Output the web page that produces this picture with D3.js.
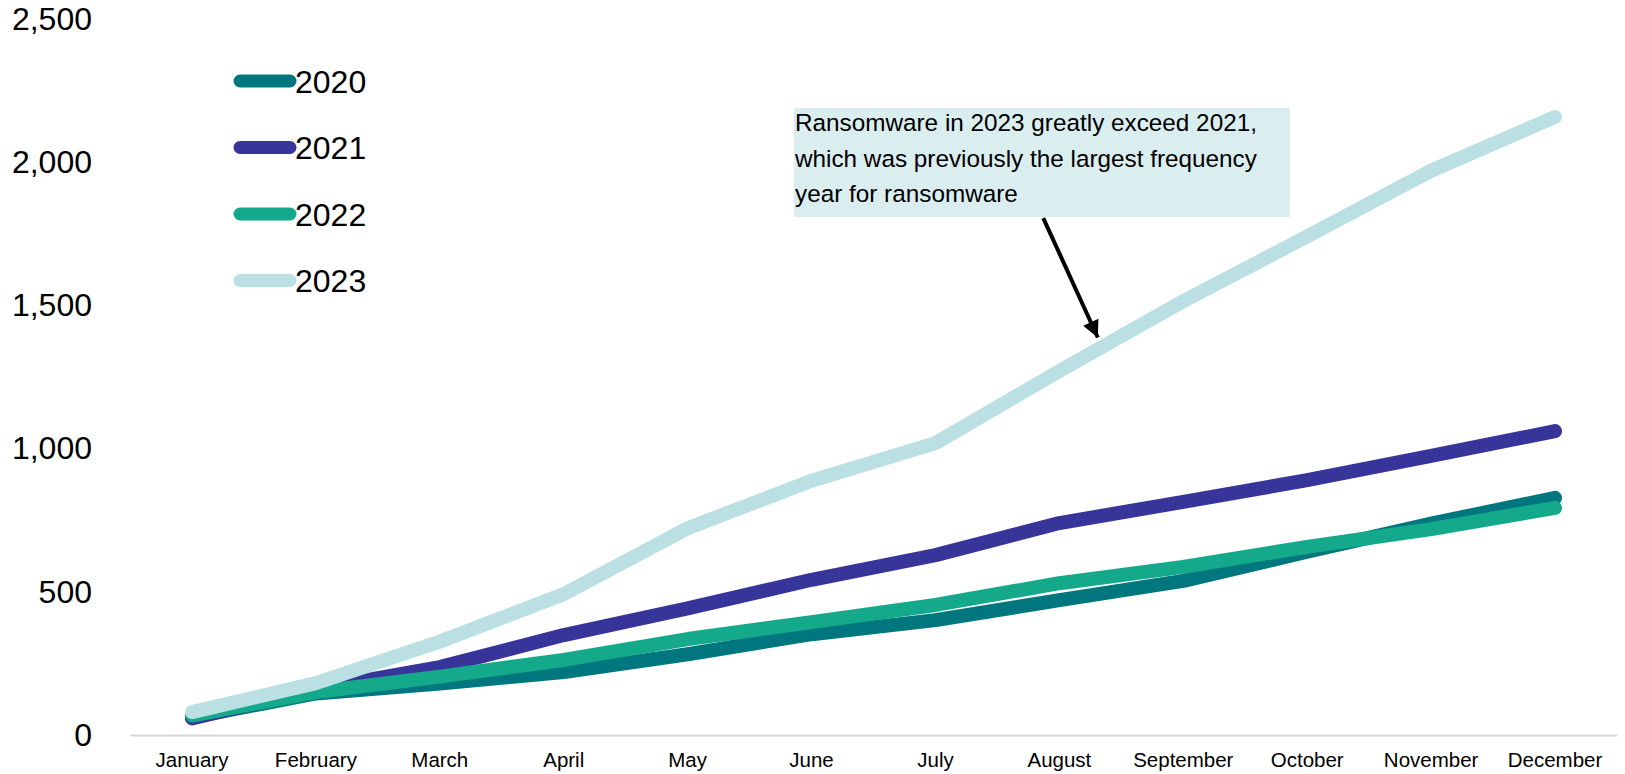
<!DOCTYPE html>
<html>
<head>
<meta charset="utf-8">
<script src="https://cdn.jsdelivr.net/npm/d3@7"></script>
<style>
  html, body { margin: 0; padding: 0; background: #ffffff; }
  svg { display: block; font-family: "Liberation Sans", Arial, sans-serif; }
</style>
</head>
<body>
<svg id="chart" width="1625" height="774"></svg>
<script>
const months = ["January","February","March","April","May","June","July","August","September","October","November","December"];
const yTicks = [0, 500, 1000, 1500, 2000, 2500];
const seriesNames = ["2020","2021","2022","2023"];
const values2020 = [62, 145, 180, 220, 282, 352, 401, 471, 538, 640, 738, 828];
const values2021 = [58, 160, 237, 349, 442, 542, 628, 740, 814, 890, 975, 1061];
const values2022 = [68, 150, 204, 262, 335, 394, 454, 530, 587, 657, 719, 793];
const values2023 = [80, 181, 326, 492, 722, 888, 1019, 1271, 1515, 1741, 1970, 2158];
const colors = ["#00767F", "#37349A", "#13A98A", "#BBE0E3"];
const annotationLines = ["Ransomware in 2023 greatly exceed 2021,", "which was previously the largest frequency", "year for ransomware"];

const allSeries = [values2020, values2021, values2022, values2023];

const svg = d3.select("#chart");
const plotLeft = 130, plotRight = 1617, plotTop = 19, plotBottom = 735;

const x = d3.scaleBand().domain(months).range([plotLeft, plotRight]);
const xc = m => x(m) + x.bandwidth() / 2;
// fractional month index -> pixel (for the annotation)
const xf = d3.scaleLinear().domain([0, months.length - 1]).range([xc(months[0]), xc(months[months.length - 1])]);
const y = d3.scaleLinear().domain([0, 2500]).range([plotBottom, plotTop]);

// y axis labels
const yAxis = d3.axisLeft(y).tickValues(yTicks).tickFormat(d3.format(",")).tickSize(0).tickPadding(0);
const gy = svg.append("g").attr("transform", "translate(92,0)").call(yAxis);
gy.select(".domain").remove();
gy.selectAll("text").attr("font-size", 32).attr("fill", "#000").attr("font-family", "Liberation Sans, Arial, sans-serif");

// x axis
const xAxis = d3.axisBottom(x).tickSize(0).tickPadding(17);
const gx = svg.append("g").attr("transform", `translate(0,${plotBottom})`).call(xAxis);
gx.select(".domain").attr("stroke", "#d9d9d9").attr("stroke-width", 2);
gx.selectAll("text").attr("font-size", 20.5).attr("fill", "#000").attr("font-family", "Liberation Sans, Arial, sans-serif");

// lines
const line = d3.line().x((d, i) => xc(months[i])).y(d => y(d));
allSeries.forEach((vals, k) => {
  svg.append("path")
    .datum(vals)
    .attr("d", line)
    .attr("fill", "none")
    .attr("stroke", colors[k])
    .attr("stroke-width", 14)
    .attr("stroke-linecap", "round")
    .attr("stroke-linejoin", "round");
});

// legend
const lg = svg.append("g");
seriesNames.forEach((name, k) => {
  const ly = 81 + k * 66.5;
  lg.append("line").attr("x1", 240).attr("x2", 290).attr("y1", ly).attr("y2", ly)
    .attr("stroke", colors[k]).attr("stroke-width", 13).attr("stroke-linecap", "round");
  lg.append("text").attr("x", 295).attr("y", ly + 11.5).attr("font-size", 32).attr("fill", "#000").text(name);
});

// annotation box
const boxX0 = 794, boxX1 = 1290, boxY0 = 108, boxY1 = 217;
svg.append("rect").attr("x", boxX0).attr("y", boxY0).attr("width", boxX1 - boxX0).attr("height", boxY1 - boxY0)
  .attr("fill", "#DAEEF0");
annotationLines.forEach((t, i) => {
  svg.append("text").attr("x", boxX0 + 1).attr("y", 131 + i * 35.5)
    .attr("font-size", 24.3).attr("fill", "#000").text(t);
});

// arrow
const defs = svg.append("defs");
defs.append("marker").attr("id", "ah").attr("viewBox", "0 0 10 10").attr("refX", 10).attr("refY", 5)
  .attr("markerWidth", 4.6).attr("markerHeight", 4.2).attr("orient", "auto").attr("markerUnits", "strokeWidth")
  .append("path").attr("d", "M0,0 L10,5 L0,10 Z").attr("fill", "#000");
svg.append("line")
  .attr("x1", xf(6.87)).attr("y1", y(1805))
  .attr("x2", xf(7.31)).attr("y2", y(1388))
  .attr("stroke", "#000").attr("stroke-width", 4).attr("marker-end", "url(#ah)");
</script>
</body>
</html>
